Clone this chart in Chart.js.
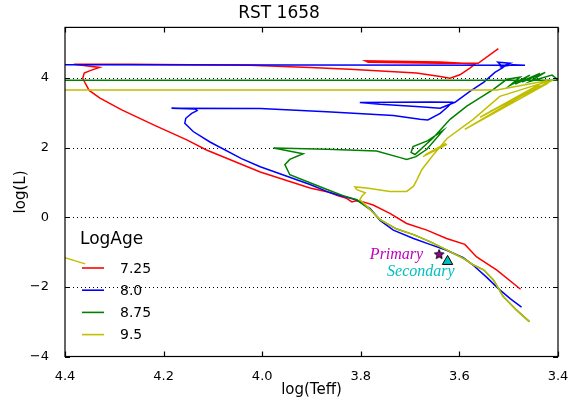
<!DOCTYPE html>
<html>
<head>
<meta charset="utf-8">
<script src="https://cdn.jsdelivr.net/npm/chart.js@4/dist/chart.umd.min.js"></script>
<style>
  body { margin: 0; background: #fff; }
</style>
</head>
<body>
<canvas id="hrd" width="588" height="405"></canvas>
<script>
// isochrone tracks (log Teff, log L); null breaks a line
var teff725 = [3.476,3.524,3.565,3.589,3.626,3.666,3.707,3.741,3.775,3.795,3.810,3.818,3.829,3.849,3.862,3.903,4.004,4.113,4.153,4.217,4.285,4.329,4.351,4.359,4.364,4.361,4.349,4.330,4.382,4.268,4.025,3.903,3.822,3.687,3.639,3.619,3.599,3.578,3.568,3.639,3.791,3.785,3.639,3.562,3.521];
var logL725 = [-2.07,-1.52,-1.14,-0.78,-0.61,-0.37,-0.18,0.11,0.35,0.44,0.47,0.44,0.54,0.63,0.71,0.84,1.30,1.93,2.22,2.63,3.08,3.42,3.64,3.85,3.99,4.14,4.21,4.30,4.39,4.39,4.36,4.30,4.25,4.14,4.04,3.99,4.09,4.29,4.40,4.46,4.49,4.45,4.42,4.42,4.84];

var teff80 = [3.474,3.497,3.521,3.545,3.572,3.592,3.626,3.660,3.693,3.734,3.761,3.781,3.808,3.836,3.862,3.903,4.004,4.042,4.106,4.140,4.157,4.155,4.143,4.132,4.136,4.184,4.004,3.869,3.734,3.680,3.664,3.639,3.623,3.615,3.660,3.802,3.761,3.680,3.639,3.609,3.578,3.551,3.528,3.511,3.522,3.497,3.518,3.493,3.467,4.40];
var logL80 = [-2.58,-2.34,-2.05,-1.72,-1.38,-1.16,-0.95,-0.78,-0.61,-0.37,-0.09,0.25,0.49,0.60,0.70,0.94,1.45,1.68,2.16,2.46,2.70,2.84,2.98,3.06,3.11,3.13,3.12,3.03,2.92,2.81,2.79,2.98,3.18,3.30,3.31,3.29,3.24,3.17,3.13,3.30,3.62,3.87,4.16,4.30,4.45,4.42,4.31,4.38,4.36,4.375];

var teff875 = [3.458,3.484,3.511,3.531,3.551,3.572,3.592,3.626,3.660,3.693,3.727,3.761,3.781,3.808,3.836,3.862,3.903,3.944,3.954,3.944,3.917,3.977,3.869,3.768,3.720,3.707,3.688,3.666,3.633,3.664,3.694,3.698,3.690,3.653,3.619,3.585,3.531,3.504,3.477,3.497,3.457,3.487,3.437,3.473,3.426,3.457,3.412,3.404,3.400,4.40];
var logL875 = [-3.00,-2.67,-2.28,-1.80,-1.51,-1.37,-1.18,-0.94,-0.70,-0.50,-0.34,-0.07,0.22,0.50,0.62,0.76,0.99,1.22,1.51,1.66,1.82,1.99,1.95,1.90,1.71,1.66,1.74,1.95,2.49,2.20,2.03,1.86,1.80,2.28,2.81,3.19,3.67,3.96,4.02,3.79,4.08,3.82,4.13,3.88,4.16,3.90,4.08,3.99,3.93,3.93];

var teff95 = [3.458,3.484,3.511,3.531,3.551,3.572,3.592,3.626,3.660,3.693,3.727,3.761,3.781,3.795,3.802,3.798,3.791,3.808,3.812,3.788,3.741,3.707,3.693,3.686,3.676,3.654,3.625,3.572,3.518,3.450,3.410,3.538,3.420,3.589,3.437,3.558,3.426,3.524,4.70,4.70,4.359,null,3.674,3.625,3.670,3.627];
var logL95 = [-3.00,-2.67,-2.28,-1.80,-1.51,-1.37,-1.18,-0.94,-0.70,-0.50,-0.34,-0.07,0.22,0.41,0.50,0.60,0.70,0.79,0.87,0.84,0.74,0.74,0.89,1.08,1.37,1.77,2.26,2.81,3.47,3.77,3.94,3.04,3.85,2.52,3.79,2.87,3.91,3.654,3.654,0.12,-1.34,null,1.74,2.09,1.79,2.12];

var ageLabels = ['7.25', '8.0', '8.75', '9.5'];
var ageColors = ['#ff0000', '#0000ff', '#008000', '#bfbf00'];

var primaryTeff = [3.641], primaryL = [-1.06];
var secondaryTeff = [3.624], secondaryL = [-1.27];

var xTicks = [4.4, 4.2, 4.0, 3.8, 3.6, 3.4];
var yTicks = [-4, -2, 0, 2, 4];
var gridLevels = [-2, 0, 2, 4];

function pts(xs, ys) {
  return xs.map(function (v, i) { return { x: v, y: ys[i] }; });
}

function starImage(size, fill) {
  var c = document.createElement('canvas');
  c.width = c.height = size;
  var g = c.getContext('2d');
  var cx = size / 2, cy = size / 2 + 0.5, r = size / 2 - 1, r2 = r * 0.45;
  g.beginPath();
  for (var i = 0; i < 10; i++) {
    var rr = i % 2 ? r2 : r;
    var a = -Math.PI / 2 + i * Math.PI / 5;
    g.lineTo(cx + rr * Math.cos(a), cy + rr * Math.sin(a));
  }
  g.closePath();
  g.fillStyle = fill; g.fill();
  g.strokeStyle = '#000'; g.lineWidth = 1; g.stroke();
  return c;
}

var FONT = 'DejaVu Sans';

var decor = {
  id: 'decor',
  beforeDatasetsDraw: function (chart) {
    var ctx = chart.ctx, a = chart.chartArea, y = chart.scales.y;
    ctx.save();
    ctx.strokeStyle = '#000';
    ctx.lineWidth = 1;
    ctx.setLineDash([1, 3]);
    gridLevels.forEach(function (v) {
      var py = Math.round(y.getPixelForValue(v)) + 0.5;
      ctx.beginPath(); ctx.moveTo(a.left, py); ctx.lineTo(a.right, py); ctx.stroke();
    });
    ctx.restore();
  },
  afterDatasetsDraw: function (chart) {
    var ctx = chart.ctx, a = chart.chartArea, x = chart.scales.x, y = chart.scales.y;
    ctx.save();
    // frame and inward ticks on all four sides
    ctx.strokeStyle = '#000';
    ctx.lineWidth = 1.2;
    ctx.strokeRect(a.left, a.top, a.right - a.left, a.bottom - a.top);
    ctx.beginPath();
    xTicks.forEach(function (v) {
      var px = Math.round(x.getPixelForValue(v)) + 0.5;
      ctx.moveTo(px, a.bottom); ctx.lineTo(px, a.bottom - 5);
      ctx.moveTo(px, a.top); ctx.lineTo(px, a.top + 5);
    });
    yTicks.forEach(function (v) {
      var py = Math.round(y.getPixelForValue(v)) + 0.5;
      ctx.moveTo(a.left, py); ctx.lineTo(a.left + 5, py);
      ctx.moveTo(a.right, py); ctx.lineTo(a.right - 5, py);
    });
    ctx.stroke();

    // star labels
    var p = chart.getDatasetMeta(4).data[0];
    var s = chart.getDatasetMeta(5).data[0];
    ctx.font = 'italic 16px "Liberation Serif"';
    ctx.textBaseline = 'middle';
    ctx.textAlign = 'right';
    ctx.fillStyle = '#bf00bf';
    ctx.fillText('Primary', p.x - 16, p.y + 1);
    ctx.fillStyle = '#00bfbf';
    ctx.fillText('Secondary', s.x + 7, s.y + 10);

    // legend
    ctx.textAlign = 'left';
    ctx.fillStyle = '#000';
    ctx.font = '17px "' + FONT + '"';
    ctx.fillText('LogAge', 80, 240);
    ctx.font = '14px "' + FONT + '"';
    ctx.lineWidth = 1.6;
    ageLabels.forEach(function (lab, i) {
      var ly = 268 + i * 22.2;
      ctx.strokeStyle = ageColors[i];
      ctx.beginPath(); ctx.moveTo(82, ly); ctx.lineTo(104, ly); ctx.stroke();
      ctx.fillText(lab, 120, ly + 1);
    });
    ctx.restore();
  }
};

var tracks = [[teff725, logL725], [teff80, logL80], [teff875, logL875], [teff95, logL95]];
var datasets = tracks.map(function (t, i) {
  return {
    label: ageLabels[i],
    data: pts(t[0], t[1]),
    showLine: true,
    borderColor: ageColors[i],
    borderWidth: 1.5,
    pointRadius: 0,
    tension: 0,
    order: 4 - i
  };
});
datasets.push({
  label: 'Primary',
  data: pts(primaryTeff, primaryL),
  pointStyle: starImage(12, '#990099'),
  pointRadius: 6,
  order: 0
});
datasets.push({
  label: 'Secondary',
  data: pts(secondaryTeff, secondaryL),
  pointStyle: 'triangle',
  pointRadius: 6,
  backgroundColor: '#00bfbf',
  borderColor: '#000',
  borderWidth: 1,
  order: 0
});

new Chart(document.getElementById('hrd'), {
  type: 'scatter',
  data: { datasets: datasets },
  options: {
    responsive: false,
    animation: false,
    events: [],
    layout: { padding: { left: 0, right: 30, top: 0, bottom: 0 } },
    plugins: {
      legend: { display: false },
      tooltip: { enabled: false },
      title: {
        display: true,
        text: 'RST 1658',
        color: '#000',
        font: { family: FONT, size: 17, weight: 'normal' },
        padding: { top: 3, bottom: 4 }
      }
    },
    scales: {
      x: {
        type: 'linear',
        reverse: true,
        min: 3.4,
        max: 4.4,
        afterFit: function (s) { s.height = 48.5; },
        afterBuildTicks: function (s) { s.ticks = xTicks.map(function (v) { return { value: v }; }); },
        grid: { display: false },
        border: { display: false },
        ticks: {
          color: '#000',
          font: { family: FONT, size: 13 },
          padding: 4,
          maxRotation: 0,
          autoSkip: false,
          callback: function (v) { return v.toFixed(1); }
        },
        title: {
          display: true,
          text: 'log(Teff)',
          color: '#000',
          font: { family: FONT, size: 15 },
          padding: { top: 0, bottom: 6 }
        }
      },
      y: {
        type: 'linear',
        min: -4,
        max: 5.45,
        afterFit: function (s) { s.width = 65; },
        afterBuildTicks: function (s) { s.ticks = yTicks.map(function (v) { return { value: v }; }); },
        grid: { display: false },
        border: { display: false },
        ticks: {
          color: '#000',
          font: { family: FONT, size: 13 },
          padding: 8,
          callback: function (v) { return String(v).replace('-', '\u2212'); }
        },
        title: {
          display: true,
          text: 'log(L)',
          color: '#000',
          font: { family: FONT, size: 15 },
          padding: { top: 12, bottom: 0 }
        }
      }
    }
  },
  plugins: [decor]
});
</script>
</body>
</html>
